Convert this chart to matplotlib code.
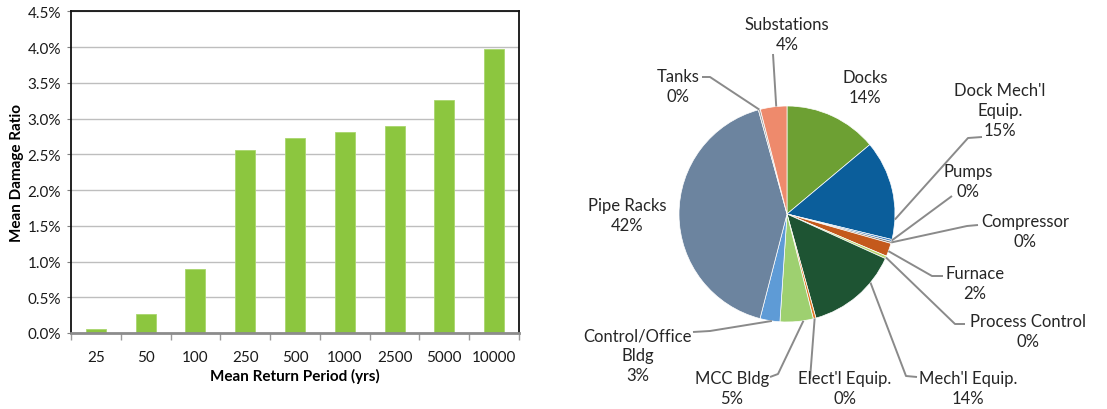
import numpy as np
import matplotlib
matplotlib.use("Agg")
import matplotlib.pyplot as plt
from matplotlib.ticker import FuncFormatter, FixedLocator

plt.rcParams['font.family'] = ['Lato', 'DejaVu Sans']

# Mean damage ratio by return period
periods = ['25', '50', '100', '250', '500', '1000', '2500', '5000', '10000']
damage_pct = [0.06, 0.26, 0.90, 2.56, 2.73, 2.81, 2.90, 3.26, 3.97]

# Loss contribution by component
components = ["Docks", "Dock Mech'l\nEquip.", "Pumps", "Compressor", "Furnace",
              "Process Control", "Mech'l Equip.", "Elect'l Equip.", "MCC Bldg",
              "Control/Office\nBldg", "Pipe Racks", "Tanks", "Substations"]
shares = [14, 15, 0.3, 0.3, 2, 0.4, 14, 0.4, 5, 3, 42, 0.3, 4]
colors = ['#6DA033', '#0B5E9B', '#3F7FBF', '#7F7F7F', '#C4591C', '#B8D46E',
          '#1E5433', '#E27B27', '#9ED070', '#5E9BD6', '#6C849F', '#A5A5A5', '#EE8A6C']

W, H = 1107, 410
fig = plt.figure(figsize=(W / 100, H / 100), dpi=100)

# ---------- bar chart ----------
ax = fig.add_axes([71 / W, (H - 334) / H, 448 / W, 321.7 / H])
x = np.arange(len(periods))
ax.bar(x, damage_pct, width=0.4, color='#8CC63F', edgecolor='#A9D66E', linewidth=0.6, zorder=3)
ax.set_xlim(-0.5, len(periods) - 0.5)
ax.set_ylim(0, 4.5)
ax.yaxis.set_major_locator(FixedLocator(np.arange(0, 4.51, 0.5)))
ax.yaxis.set_major_formatter(FuncFormatter(lambda v, p: f"{v:.1f}%"))
ax.grid(axis='y', color='#BEBEBE', linewidth=1.0, zorder=0)
ax.set_xticks(x)
ax.set_xticklabels(periods)
ax.set_xticks(np.arange(-0.5, len(periods)), minor=True)
ax.tick_params(axis='x', which='major', length=0, pad=12, labelsize=11, colors='#1a1a1a')
ax.tick_params(axis='x', which='minor', length=5, color='#9A9A9A', width=1)
ax.tick_params(axis='y', length=3, color='#7F7F7F', pad=4, labelsize=11, colors='#1a1a1a')
for s in ('left', 'top', 'right'):
    ax.spines[s].set_color('#111111')
    ax.spines[s].set_linewidth(1.3)
ax.spines['bottom'].set_color('#8C8C8C')
ax.spines['bottom'].set_linewidth(2.0)
ax.spines['bottom'].set_zorder(4)
ax.set_xlabel('Mean Return Period (yrs)', fontsize=11, fontweight='bold', labelpad=3)
ax.set_ylabel('Mean Damage Ratio', fontsize=11, fontweight='bold', labelpad=3)

# ---------- pie chart ----------
R = 108.0          # radius in pixels
cx, cy = 787, 215  # pie centre in pixels (from top)
x0, x1 = 560, W
pax = fig.add_axes([x0 / W, 0, (x1 - x0) / W, 1])

wedges, _ = pax.pie(shares, colors=colors, startangle=90, counterclock=False,
                    radius=1.0, center=(0, 0), frame=True,
                    wedgeprops=dict(edgecolor='white', linewidth=0.5))
pax.set_xlim((x0 - cx) / R, (x1 - cx) / R)
pax.set_ylim(-(H - cy) / R, cy / R)
pax.set_aspect('auto')
pax.axis('off')

total = sum(shares)

def to_data(px, py):
    return (px - cx) / R, (cy - py) / R

# label centre (px), leader start (px), elbow (px) or None, angular offset into wedge (0..1)
layout = {
    "Docks":              ((865, 88), None, None, None),
    "Dock Mech'l\nEquip.": ((1000, 111), (982, 138), (968, 139), 0.80),
    "Pumps":              ((968, 182), (952, 197), None, 0.5),
    "Compressor":         ((1025, 232), (978, 226), (967, 227), 0.5),
    "Furnace":            ((975, 284), (943, 277), (932, 277), 0.6),
    "Process Control":    ((1028, 332), (965, 325), (955, 325), 0.5),
    "Mech'l Equip.":      ((968, 389), (917, 378), (906, 377), 0.3),
    "Elect'l Equip.":     ((845, 389), (810, 380), None, 0.5),
    "MCC Bldg":           ((732, 389), (770, 378), (778, 375), 0.3),
    "Control/Office\nBldg": ((638, 356), (693, 333), (710, 332), 0.4),
    "Pipe Racks":         ((627, 216), None, None, None),
    "Tanks":              ((678, 87), (702, 78), (710, 78), 0.5),
    "Substations":        ((787, 35), (773, 55), None, 0.6),
}

leader_color = '#8A8A8A'
for w, name, val in zip(wedges, components, shares):
    pct = int(round(100 * val / total))
    (lx, ly), start, elbow, frac = layout[name]
    tx, ty = to_data(lx, ly)
    pax.text(tx, ty, f"{name}\n{pct}%", ha='center', va='center', fontsize=12,
             color='#262626', linespacing=1.3, zorder=5)
    if start is None:
        continue
    # point on the rim inside this wedge (angles run clockwise from theta2 to theta1)
    ang = np.deg2rad(w.theta2 - frac * (w.theta2 - w.theta1))
    ex, ey = np.cos(ang), np.sin(ang)
    pts = [to_data(*start)]
    if elbow is not None:
        pts.append(to_data(*elbow))
    pts.append((ex, ey))
    xs, ys = zip(*pts)
    pax.plot(xs, ys, color=leader_color, linewidth=1.4, solid_capstyle='butt')

fig.savefig('out.png', dpi=100)
